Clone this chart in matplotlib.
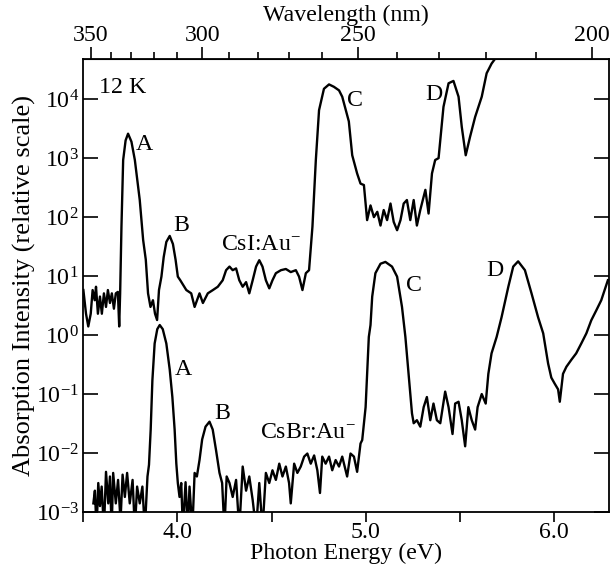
import matplotlib
matplotlib.use("Agg")
import matplotlib.pyplot as plt
from matplotlib.ticker import FixedLocator, NullLocator, LogLocator, LogFormatterMathtext

plt.rcParams['font.family'] = ['Liberation Serif', 'DejaVu Serif']
plt.rcParams['mathtext.fontset'] = 'custom'
plt.rcParams['mathtext.rm'] = 'Liberation Serif'
plt.rcParams['mathtext.it'] = 'Liberation Serif:italic'
plt.rcParams['font.size'] = 17.2

# CsI:Au- spectrum (photon energy eV, absorption intensity)
csi_energy = [3.502, 3.516, 3.528, 3.541, 3.551, 3.562, 3.569, 3.579, 3.590, 3.600,
              3.611, 3.622, 3.632, 3.643, 3.653, 3.664, 3.674, 3.685, 3.692, 3.697,
              3.704, 3.713, 3.726, 3.739, 3.757, 3.775, 3.801, 3.819, 3.833, 3.845,
              3.858, 3.871, 3.882, 3.893, 3.903, 3.916, 3.928, 3.942, 3.960, 3.977,
              3.991, 4.003, 4.016, 4.048, 4.074, 4.092, 4.118, 4.136, 4.162, 4.189,
              4.215, 4.241, 4.259, 4.277, 4.294, 4.312, 4.329, 4.347, 4.365, 4.382,
              4.400, 4.418, 4.435, 4.452, 4.470, 4.488, 4.505, 4.523, 4.550, 4.576,
              4.602, 4.629, 4.646, 4.664, 4.682, 4.699, 4.717, 4.735, 4.752, 4.778,
              4.805, 4.831, 4.858, 4.875, 4.910, 4.928, 4.954, 4.972, 4.990, 5.007,
              5.025, 5.043, 5.061, 5.078, 5.095, 5.113, 5.131, 5.148, 5.166, 5.184,
              5.201, 5.218, 5.236, 5.254, 5.271, 5.289, 5.316, 5.333, 5.351, 5.368,
              5.386, 5.412, 5.439, 5.465, 5.492, 5.509, 5.530, 5.553, 5.580, 5.615,
              5.641, 5.667, 5.685, 5.720]
csi_intensity = [5.8, 2.3, 1.4, 2.3, 5.8, 3.9, 6.6, 2.3, 4.5, 2.3,
                 5.1, 3.0, 5.8, 3.5, 5.1, 2.8, 5.1, 5.4, 1.4, 5.1,
                 69, 930, 2000, 2600, 1900, 930, 195, 41, 19, 5.1,
                 3.0, 3.9, 2.3, 1.8, 5.8, 9.8, 21, 38, 48, 35,
                 19, 9.8, 8.5, 5.8, 5.1, 3.0, 5.1, 3.5, 5.1, 5.8,
                 6.6, 8.5, 12.6, 14.5, 12.6, 13.5, 8.5, 6.6, 7.9, 5.1,
                 8.5, 14.5, 18.6, 14.5, 8.5, 6.2, 8.5, 11.2, 12.6, 13.2,
                 11.7, 12.6, 9.8, 5.8, 11.2, 12.6, 69, 930, 6500, 15000,
                 17800, 16200, 14100, 11000, 4200, 1120, 550, 370, 350, 89,
                 158, 100, 123, 72, 132, 89, 170, 83, 60, 89,
                 170, 195, 89, 195, 72, 132, 290, 115, 550, 930,
                 1000, 7400, 18600, 20400, 11000, 3400, 1120, 2300, 5000, 11000,
                 27500, 40000, 48000, 79000]

# CsBr:Au- spectrum
csbr_energy = [3.555, 3.563, 3.572, 3.581, 3.590, 3.599, 3.611, 3.622, 3.634, 3.643,
               3.652, 3.660, 3.674, 3.686, 3.699, 3.710, 3.722, 3.734, 3.748, 3.763,
               3.775, 3.787, 3.801, 3.815, 3.828, 3.842, 3.850, 3.859, 3.868, 3.880,
               3.894, 3.907, 3.923, 3.942, 3.960, 3.974, 3.986, 3.995, 4.003, 4.012,
               4.021, 4.030, 4.044, 4.056, 4.065, 4.080, 4.092, 4.104, 4.118, 4.132,
               4.150, 4.171, 4.188, 4.206, 4.224, 4.238, 4.250, 4.262, 4.277, 4.294,
               4.312, 4.329, 4.347, 4.365, 4.382, 4.400, 4.418, 4.435, 4.452, 4.470,
               4.488, 4.505, 4.523, 4.541, 4.558, 4.576, 4.593, 4.602, 4.620, 4.637,
               4.655, 4.673, 4.690, 4.708, 4.726, 4.743, 4.757, 4.769, 4.787, 4.805,
               4.822, 4.840, 4.858, 4.875, 4.901, 4.919, 4.937, 4.954, 4.972, 4.981,
               4.999, 5.016, 5.025, 5.034, 5.051, 5.078, 5.104, 5.139, 5.166, 5.192,
               5.210, 5.227, 5.245, 5.254, 5.271, 5.289, 5.307, 5.324, 5.342, 5.359,
               5.377, 5.395, 5.421, 5.439, 5.460, 5.474, 5.492, 5.509, 5.527, 5.544,
               5.562, 5.580, 5.593, 5.615, 5.636, 5.650, 5.667, 5.694, 5.720, 5.756,
               5.782, 5.808, 5.844, 5.879, 5.914, 5.941, 5.967, 5.984, 6.002, 6.020,
               6.029, 6.046, 6.064, 6.090, 6.116, 6.143, 6.170, 6.196, 6.222, 6.249,
               6.284]
csbr_intensity = [0.0014, 0.0023, 0.0005, 0.0031, 0.00126, 0.0027, 0.0005, 0.0048, 0.0014, 0.0040,
                  0.0005, 0.0046, 0.0014, 0.0035, 0.0007, 0.0043, 0.0018, 0.0046, 0.0014, 0.0035,
                  0.0005, 0.0027, 0.0014, 0.0027, 0.0005, 0.0040, 0.0063, 0.025, 0.17, 0.72,
                  1.26, 1.48, 1.26, 0.72, 0.26, 0.089, 0.025, 0.0066, 0.0031, 0.0018,
                  0.0031, 0.0005, 0.0032, 0.0005, 0.0027, 0.0005, 0.0046, 0.0040, 0.0076, 0.017,
                  0.028, 0.034, 0.025, 0.011, 0.0046, 0.0031, 0.0005, 0.0040, 0.0031, 0.0018,
                  0.0035, 0.0005, 0.0059, 0.0023, 0.0040, 0.0016, 0.0005, 0.0031, 0.0005, 0.0046,
                  0.0031, 0.0051, 0.0035, 0.0066, 0.0040, 0.0059, 0.0031, 0.0014, 0.0066, 0.0046,
                  0.0059, 0.0087, 0.0098, 0.0066, 0.0091, 0.0051, 0.0021, 0.0087, 0.0066, 0.0087,
                  0.0051, 0.0076, 0.0059, 0.0087, 0.0040, 0.0098, 0.0087, 0.0048, 0.0145, 0.0166,
                  0.060, 0.93, 1.48, 4.5, 11.2, 16.2, 17.4, 14.5, 9.8, 3.0,
                  0.93, 0.22, 0.047, 0.032, 0.036, 0.028, 0.060, 0.089, 0.036, 0.069,
                  0.036, 0.032, 0.11, 0.060, 0.021, 0.069, 0.074, 0.036, 0.013, 0.060,
                  0.036, 0.025, 0.060, 0.10, 0.069, 0.22, 0.49, 0.93, 2.0, 6.6,
                  14.5, 17.8, 12.6, 5.1, 2.0, 1.07, 0.33, 0.19, 0.15, 0.12,
                  0.074, 0.22, 0.29, 0.38, 0.49, 0.72, 1.07, 1.78, 2.6, 3.9,
                  8.5]

wavelength_ticks = [350, 300, 250, 200]
wavelength_minor = list(range(200, 360, 10))

fig = plt.figure(figsize=(6.1, 5.74), dpi=100)
ax = fig.add_axes([83 / 610, 62 / 574, 526 / 610, 453 / 574])

ax.plot(csi_energy, csi_intensity, color='black', lw=1.7)
ax.plot(csbr_energy, csbr_intensity, color='black', lw=1.7)

ax.set_yscale('log')
ax.set_xlim(3.5, 6.29)
ax.set_ylim(1e-3, 4.8e4)

ax.set_xticks([4.0, 5.0, 6.0], ['4.0', '5.0', '6.0'])
ax.xaxis.set_minor_locator(FixedLocator([3.5, 4.5, 5.5]))
ax.yaxis.set_major_locator(LogLocator(base=10, numticks=20))
ax.yaxis.set_major_formatter(LogFormatterMathtext())
ax.yaxis.set_minor_locator(NullLocator())

ax.tick_params(axis='x', which='both', direction='out', length=7, width=1.2, top=False, pad=0)
ax.tick_params(axis='y', which='both', direction='in', length=11, width=1.2, right=True, pad=3)
for s in ax.spines.values():
    s.set_linewidth(1.3)

ax.set_xlabel('Photon Energy (eV)', labelpad=0)
ax.set_ylabel('Absorption Intensity (relative scale)', labelpad=0, fontsize=19)

top = ax.secondary_xaxis('top', functions=(lambda e: 1239.84 / e, lambda w: 1239.84 / w))
top.set_xticks(wavelength_ticks, [str(w) for w in wavelength_ticks])
top.xaxis.set_minor_locator(FixedLocator(wavelength_minor))
top.tick_params(which='major', direction='out', length=9, width=1.2, pad=0)
top.tick_params(which='minor', direction='out', length=5, width=1.2)
top.set_xlabel('Wavelength (nm)', labelpad=3)

ax.text(3.585, 1.6e4, '12 K', va='center', ha='left')
ax.text(3.78, 1.7e3, 'A', va='center', ha='left')
ax.text(3.98, 71, 'B', va='center', ha='left')
ax.text(4.232, 34, 'CsI:Au$^{-}$', va='center', ha='left')
ax.text(4.90, 9.5e3, 'C', va='center', ha='left')
ax.text(5.315, 1.2e4, 'D', va='center', ha='left')
ax.text(3.985, 0.26, 'A', va='center', ha='left')
ax.text(4.195, 0.046, 'B', va='center', ha='left')
ax.text(4.44, 0.022, 'CsBr:Au$^{-}$', va='center', ha='left')
ax.text(5.215, 7.0, 'C', va='center', ha='left')
ax.text(5.64, 12.5, 'D', va='center', ha='left')

fig.savefig('out.png', dpi=100)
